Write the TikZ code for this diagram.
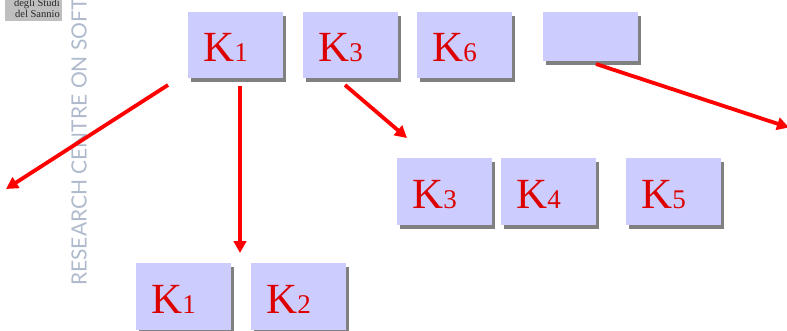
\documentclass[tikz,border=0pt]{standalone}
\usepackage{fontspec}
\setmainfont{Liberation Serif}
\newfontfamily\logosans{Lato}
\usetikzlibrary{arrows.meta}
\definecolor{boxblue}{RGB}{204,204,255}
\definecolor{shadowgray}{RGB}{128,128,128}
\definecolor{keyred}{RGB}{221,0,0}
\definecolor{sidetext}{RGB}{176,186,205}
\tikzset{
  x=1pt,y=-1pt,
  keybox/.style={rectangle,fill=boxblue,inner sep=0pt,outer sep=0pt,anchor=north west},
  keyshadow/.style={fill=shadowgray,draw=none},
  keylabel/.style={anchor=base west,inner sep=0pt,text=keyred,font=\fontsize{43}{43}\selectfont},
  redarrow/.style={draw=red,line width=3.8pt,-{Triangle[length=12pt,width=12.5pt]}}
}
\newcommand{\keybox}[6]{% name, x, y, w, h, label
  \fill[keyshadow] (#2+3,#3+4) rectangle (#2+#4+3,#3+#5+4);
  \node[keybox,minimum width=#4pt,minimum height=#5pt] (#1) at (#2,#3) {};
  \node[keylabel] (#1t) at (#2+15,#3+50) {#6};
}
\newcommand{\kk}[1]{K{\fontsize{27}{27}\selectfont #1}}
\begin{document}
\begin{tikzpicture}
\useasboundingbox (0,0) rectangle (787,331);
\fill[white] (0,0) rectangle (787,331);
\begin{scope}
\clip (0,0) rectangle (787,331);
\node[fill=black!25,minimum width=57pt,minimum height=21pt,inner sep=0pt,anchor=north west] (logo) at (5,0) {};
\node[anchor=south east,inner sep=0pt,align=right,text=black!85,font=\fontsize{10.5}{10.5}\selectfont] (logot) at (60,17.5) {degli Studi\\del Sannio};
\node[rotate=90,anchor=west,inner sep=0pt,text=sidetext,font=\logosans\fontsize{21}{21}\selectfont] (side) at (79,286) {RESEARCH CENTRE ON SOFTW};
\end{scope}
\keybox{ka}{188}{12}{95}{66.5}{\kk{1}}
\keybox{kb}{303}{12}{95}{66.5}{\kk{3}}
\keybox{kc}{417}{12}{95}{66.5}{\kk{6}}
\keybox{kd}{543}{12}{95}{48.7}{}
\keybox{ke}{397}{158}{95}{67}{\kk{3}}
\keybox{kf}{501}{158}{95}{67}{\kk{4}}
\keybox{kg}{626}{158}{95}{67}{\kk{5}}
\keybox{kh}{136}{263}{95}{66.5}{\kk{1}}
\keybox{ki}{251}{263}{95}{66.5}{\kk{2}}
\coordinate (a1) at (168,85);
\coordinate (a2) at (6,189);
\coordinate (b1) at (240,86);
\coordinate (b2) at (240,253);
\coordinate (c1) at (345,85);
\coordinate (c2) at (407,138);
\coordinate (d1) at (596,64);
\coordinate (d2) at (789,127.5);
\draw[redarrow] (a1) -- (a2);
\draw[redarrow] (b1) -- (b2);
\draw[redarrow] (c1) -- (c2);
\draw[redarrow] (d1) -- (d2);
\end{tikzpicture}
\end{document}
